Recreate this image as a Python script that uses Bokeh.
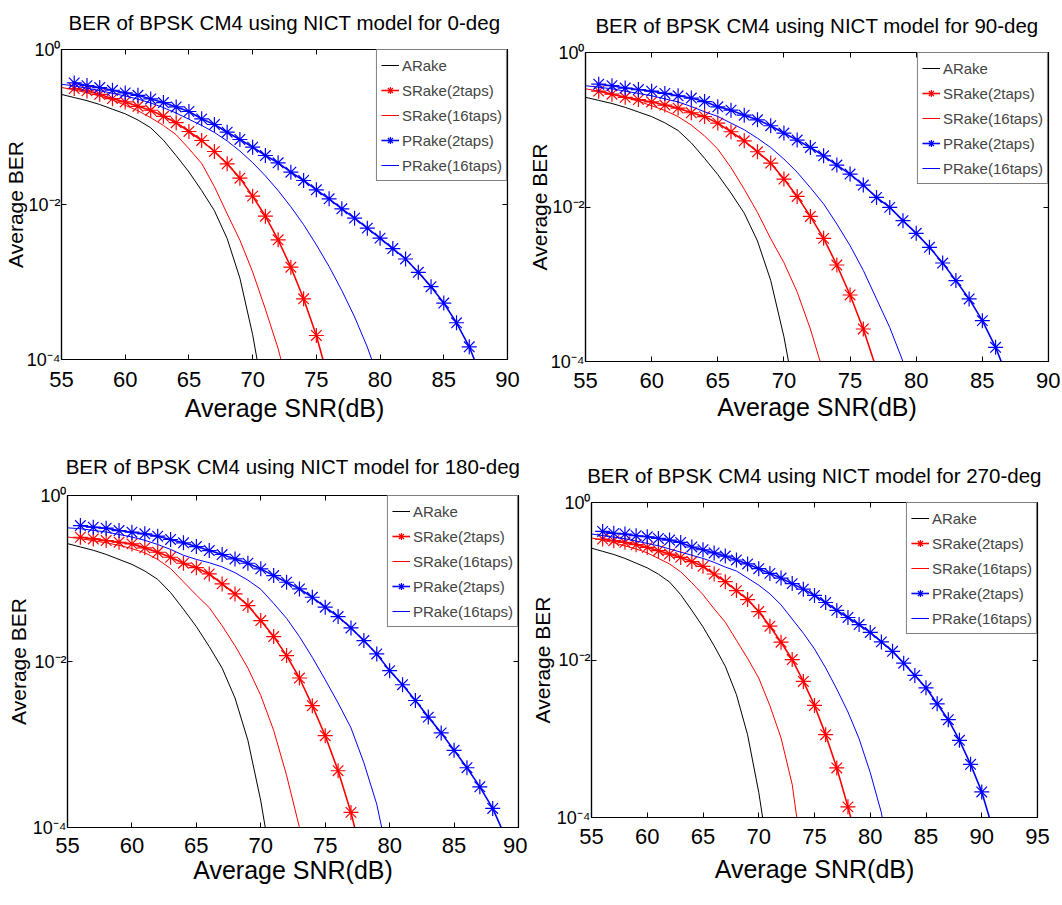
import numpy as np
from bokeh.plotting import figure
from bokeh.layouts import row, column
from bokeh.models import Range1d, FixedTicker, LinearAxis, LogAxis
from bokeh.embed import file_html
from bokeh.resources import INLINE

# ---------------- data (log10 of average BER) ----------------
TITLES = ["BER of BPSK CM4 using NICT model for 0-deg",
          "BER of BPSK CM4 using NICT model for 90-deg",
          "BER of BPSK CM4 using NICT model for 180-deg",
          "BER of BPSK CM4 using NICT model for 270-deg"]
X_LABEL = "Average SNR(dB)"
Y_LABEL = "Average BER"
SERIES_NAMES = ["ARake", "SRake(2taps)", "SRake(16taps)", "PRake(2taps)", "PRake(16taps)"]
X_TICKS_90 = [55, 60, 65, 70, 75, 80, 85, 90]
X_TICKS_95 = [55, 60, 65, 70, 75, 80, 85, 90, 95]
BER_TICKS = [1e-4, 1e-2, 1]
BER_TICK_TEXT = {1e-4: "10\u207b\u2074", 1e-2: "10\u207b\u00b2", 1: "10\u2070"}

LINE_SNR_START = 55
STAR_SNR_START = 56

ARAKE_LOG = [-0.58, -0.62, -0.66, -0.71, -0.77, -0.83, -0.91, -1.01, -1.17, -1.37,
             -1.58, -1.82, -2.08, -2.44, -2.95, -3.68, -4.6]

S2_0 = [-0.504, -0.534, -0.578, -0.634, -0.677, -0.733, -0.784, -0.862, -0.944, -1.058,
        -1.174, -1.316, -1.475, -1.660, -1.892, -2.151, -2.456, -2.809, -3.217, -3.690, -4.29]
S16_0 = [-0.49, -0.52, -0.56, -0.60, -0.65, -0.72, -0.79, -0.88, -0.98, -1.10,
         -1.28, -1.47, -1.77, -2.12, -2.46, -2.87, -3.35, -3.86, -4.5]
P2_0 = [-0.431, -0.466, -0.491, -0.526, -0.560, -0.591, -0.638, -0.685, -0.741, -0.800,
        -0.895, -0.968, -1.067, -1.161, -1.260, -1.368, -1.462, -1.583, -1.690, -1.811,
        -1.927, -2.056, -2.176, -2.305, -2.434, -2.569, -2.703, -2.875, -3.060, -3.272,
        -3.526, -3.836, -4.25]
P16_0 = [-0.448, -0.47, -0.50, -0.53, -0.565, -0.60, -0.64, -0.69, -0.75, -0.82,
         -0.90, -0.98, -1.07, -1.18, -1.31, -1.46, -1.63, -1.82, -2.03, -2.26,
         -2.52, -2.80, -3.11, -3.45, -3.84, -4.3]

S2_1 = [-0.50, -0.54, -0.58, -0.61, -0.64, -0.68, -0.72, -0.78, -0.83, -0.914,
        -1.026, -1.143, -1.285, -1.432, -1.638, -1.863, -2.122, -2.406, -2.751, -3.139,
        -3.579, -4.1]
S16_1 = [-0.47, -0.50, -0.54, -0.58, -0.63, -0.69, -0.75, -0.83, -0.94, -1.08,
         -1.25, -1.49, -1.77, -2.07, -2.41, -2.72, -3.10, -3.58, -4.15]
P2_1 = [-0.41, -0.43, -0.46, -0.48, -0.50, -0.53, -0.56, -0.59, -0.635, -0.703,
        -0.746, -0.811, -0.871, -0.948, -1.043, -1.134, -1.229, -1.337, -1.457, -1.574,
        -1.716, -1.876, -2.005, -2.177, -2.341, -2.522, -2.725, -2.953, -3.19, -3.471,
        -3.816, -4.25]
P16_1 = [-0.43, -0.45, -0.47, -0.50, -0.53, -0.56, -0.60, -0.64, -0.70, -0.767,
         -0.828, -0.914, -1.0, -1.11, -1.23, -1.38, -1.55, -1.75, -1.96, -2.22,
         -2.50, -2.82, -3.19, -3.56, -4.0, -4.5]

S2_2 = [-0.503, -0.523, -0.543, -0.563, -0.583, -0.631, -0.684, -0.744, -0.816, -0.87,
        -0.945, -1.065, -1.186, -1.326, -1.507, -1.700, -1.929, -2.199, -2.532, -2.894,
        -3.316, -3.818, -4.45]
S16_2 = [-0.50, -0.52, -0.545, -0.57, -0.60, -0.64, -0.69, -0.77, -0.88, -1.04,
         -1.20, -1.35, -1.57, -1.81, -2.08, -2.41, -2.83, -3.37, -4.0, -4.7]
P2_2 = [-0.362, -0.382, -0.394, -0.422, -0.442, -0.462, -0.49, -0.53, -0.57, -0.615,
        -0.663, -0.711, -0.764, -0.816, -0.884, -0.965, -1.045, -1.125, -1.226, -1.346,
        -1.459, -1.596, -1.748, -1.909, -2.110, -2.28, -2.47, -2.67, -2.86, -3.07,
        -3.28, -3.51, -3.77, -4.12]
P16_2 = [-0.39, -0.40, -0.42, -0.44, -0.47, -0.50, -0.54, -0.59, -0.65, -0.72,
         -0.77, -0.81, -0.86, -0.93, -1.02, -1.13, -1.30, -1.48, -1.70, -1.95,
         -2.22, -2.50, -2.80, -3.22, -3.72, -4.45]

S2_3 = [-0.464, -0.485, -0.506, -0.536, -0.57, -0.612, -0.655, -0.697, -0.75, -0.811,
        -0.908, -1.005, -1.119, -1.233, -1.385, -1.571, -1.774, -1.994, -2.272, -2.577,
        -2.948, -3.371, -3.865, -4.4]
S16_3 = [-0.45, -0.48, -0.51, -0.55, -0.59, -0.64, -0.71, -0.78, -0.88, -1.02,
         -1.17, -1.35, -1.52, -1.75, -1.98, -2.23, -2.58, -2.99, -3.58, -4.6]
P2_3 = [-0.367, -0.392, -0.40, -0.422, -0.435, -0.456, -0.477, -0.507, -0.565, -0.600,
        -0.64, -0.68, -0.73, -0.78, -0.84, -0.90, -0.96, -1.03, -1.10, -1.18,
        -1.27, -1.37, -1.46, -1.55, -1.65, -1.77, -1.89, -2.04, -2.196, -2.353,
        -2.556, -2.758, -3.02, -3.325, -3.675, -4.15]
P16_3 = [-0.40, -0.42, -0.44, -0.46, -0.49, -0.52, -0.55, -0.59, -0.63, -0.67,
         -0.71, -0.76, -0.82, -0.87, -0.96, -1.05, -1.16, -1.30, -1.48, -1.66,
         -1.86, -2.10, -2.37, -2.66, -3.00, -3.43, -3.94, -4.8]

PANEL_DATA = [(S2_0, S16_0, P2_0, P16_0), (S2_1, S16_1, P2_1, P16_1),
              (S2_2, S16_2, P2_2, P16_2), (S2_3, S16_3, P2_3, P16_3)]
X_MAX = [90, 90, 90, 95]

FONT = "Liberation Sans"

# (width, height, border_left, border_right, border_top, border_bottom)
GEOM = [(524, 440, 59, 17, 49, 81),
        (536, 440, 59, 12, 52, 79),
        (527, 463, 67, 9, 55, 76),
        (533, 463, 64, 23, 62, 86)]
TICK_STANDOFF = [12, 11, 10, 11]
XLAB_STANDOFF = [4, 2, 0, 8]
TITLE_STANDOFF = [16, 16, 18, 16]
YLAB_STANDOFF = [-3, -3, 0, 0]


def make_panel(i):
    W, H, bl, br, bt, bb = GEOM[i]
    xmax = X_MAX[i]
    p = figure(width=W, height=H, x_range=Range1d(55, xmax), y_range=Range1d(1e-4, 1),
               y_axis_type="log", output_backend="svg", toolbar_location=None,
               min_border_left=bl, min_border_right=br, min_border_top=bt,
               min_border_bottom=bb)
    try:
        p.frame_align = False  # keep each panel's own frame position
    except Exception:
        pass
    p.grid.visible = False
    p.outline_line_color = "black"
    p.outline_line_width = 1.2
    p.background_fill_color = "white"
    p.border_fill_color = "white"

    xt = X_TICKS_95 if xmax == 95 else X_TICKS_90
    xa = p.xaxis[0]
    xa.ticker = FixedTicker(ticks=xt)
    xa.major_label_text_font = FONT
    xa.major_label_text_font_size = "22px"
    xa.major_label_standoff = TICK_STANDOFF[i]
    xa.axis_label = X_LABEL
    xa.axis_label_text_font = FONT
    xa.axis_label_text_font_size = "25px"
    xa.axis_label_text_font_style = "normal"
    xa.axis_label_standoff = XLAB_STANDOFF[i]

    ya = p.yaxis[0]
    ya.ticker = FixedTicker(ticks=BER_TICKS)
    ya.major_label_overrides = BER_TICK_TEXT
    ya.major_label_text_font = FONT
    ya.major_label_text_font_size = "18px"
    ya.major_label_standoff = 1
    ya.axis_label = Y_LABEL
    ya.axis_label_text_font = FONT
    ya.axis_label_text_font_size = "21px"
    ya.axis_label_text_font_style = "normal"
    ya.axis_label_standoff = YLAB_STANDOFF[i]
    for ax in (xa, ya):
        ax.major_tick_in = 5
        ax.major_tick_out = 0
        ax.minor_tick_line_color = None
        ax.axis_line_width = 1.2
        ax.major_label_text_color = "black"
        ax.axis_label_text_color = "black"

    # top axis: mirrored ticks, carries the panel title as its label
    top = LinearAxis(ticker=FixedTicker(ticks=xt), major_label_text_font_size="1px",
                     major_label_text_color=None,
                     major_tick_in=5, major_tick_out=0, minor_tick_line_color=None,
                     major_label_standoff=0, axis_line_width=1.2,
                     axis_label=TITLES[i], axis_label_text_font=FONT,
                     axis_label_text_font_size="20.5px", axis_label_text_font_style="normal",
                     axis_label_text_color="black", axis_label_standoff=TITLE_STANDOFF[i])
    # right axis: mirrored ticks only, pinned to the frame edge
    right = LinearAxis(ticker=FixedTicker(ticks=BER_TICKS), fixed_location=xmax,
                       major_label_text_font_size="1px", major_label_text_color=None,
                       major_tick_in=5, major_tick_out=0, minor_tick_line_color=None,
                       major_label_standoff=0, axis_line_width=1.2)
    p.add_layout(top, "above")
    p.add_layout(right, "right")

    s2, s16, p2, p16 = PANEL_DATA[i]
    series = [(ARAKE_LOG, LINE_SNR_START, "black", False),
              (s2, STAR_SNR_START, "red", True),
              (s16, LINE_SNR_START, "red", False),
              (p2, STAR_SNR_START, "blue", True),
              (p16, LINE_SNR_START, "blue", False)]
    for (vals, x0, color, star), name in zip(series, SERIES_NAMES):
        x = list(range(x0, x0 + len(vals)))
        y = [10 ** v for v in vals]
        p.line(x, y, line_color=color, line_width=1.6 if star else 1.0, legend_label=name)
        if star:
            p.scatter(x, y, marker="asterisk", size=15, line_color=color, line_width=1.2,
                      legend_label=name)

    lg = p.legend[0]
    lg.location = "top_right"
    lg.margin = 0
    lg.padding = 4
    lg.spacing = 3
    lg.glyph_width = 18
    lg.glyph_height = 22
    lg.label_height = 22
    lg.label_standoff = 3
    lg.label_text_font = FONT
    lg.label_text_font_size = "15px"
    lg.border_line_color = "black"
    lg.border_line_width = 1.3
    lg.background_fill_alpha = 1.0
    return p


figs = [make_panel(i) for i in range(4)]
layout = column(row(figs[0], figs[1]), row(figs[2], figs[3]))

open("out.html", "w").write(file_html(layout, INLINE))
